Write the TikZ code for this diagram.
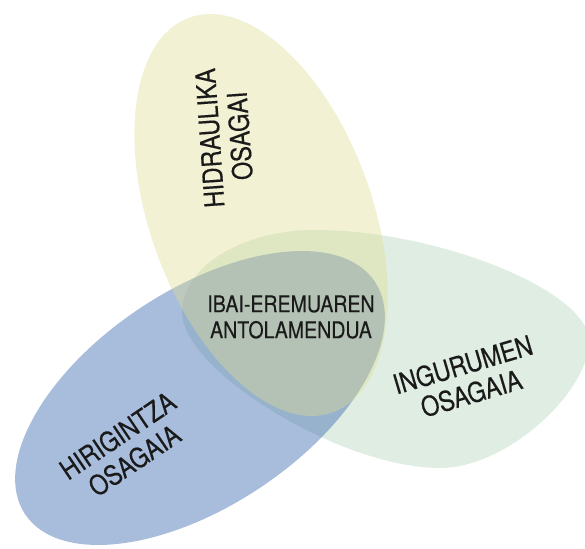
\documentclass[tikz,border=0pt]{standalone}
\usepackage{fontspec}
\usetikzlibrary{shapes.geometric}
\newfontfamily\labelfont[FakeStretch=0.85,FakeBold=0.3]{TeX Gyre Heros}
\definecolor{greenfill}{RGB}{223,237,226}
\definecolor{bluefill}{RGB}{81,121,183}
\definecolor{yellowfill}{RGB}{222,220,148}
\definecolor{labeltext}{RGB}{26,26,26}
\tikzset{
  blob/.style={ellipse, inner sep=0pt, outer sep=0pt, draw=none},
  sidelabel/.style={font=\labelfont\fontsize{27.5}{30}\selectfont, text=labeltext, align=center, inner sep=0pt},
  midlabel/.style={font=\labelfont\fontsize{23}{26}\selectfont, text=labeltext, align=center, inner sep=0pt}
}
\begin{document}
\begin{tikzpicture}[x=1pt,y=1pt]
\useasboundingbox (0,-548) rectangle (585,0);
\begin{scope}
\clip (0,-548) rectangle (585,0);
% green (environment) shape
\fill[greenfill] (182,-312) .. controls (182,-267) and (242,-230) .. (315,-230)
  .. controls (438,-230) and (589,-291) .. (589,-341)
  .. controls (589,-392) and (507,-468) .. (440,-468)
  .. controls (340,-468) and (182,-370) .. (182,-312) -- cycle;
\node[blob, fill=bluefill, fill opacity=0.5, minimum width=420pt, minimum height=216pt, rotate=33.6] (blue) at (200,-398) {};
\node[blob, fill=yellowfill, fill opacity=0.4, minimum width=420pt, minimum height=222pt, rotate=-70] (yellow) at (261,-215) {};
\end{scope}
\node[sidelabel, rotate=94] (hydro) at (225,-137) {HIDRAULIKA\\OSAGAI};
\node[midlabel] (centre) at (291,-317) {IBAI-EREMUAREN\\ANTOLAMENDUA};
\node[sidelabel, rotate=16.5] (env) at (467,-379) {INGURUMEN\\OSAGAIA};
\node[sidelabel, rotate=34] (urban) at (126,-448) {HIRIGINTZA\\OSAGAIA};
\end{tikzpicture}
\end{document}
